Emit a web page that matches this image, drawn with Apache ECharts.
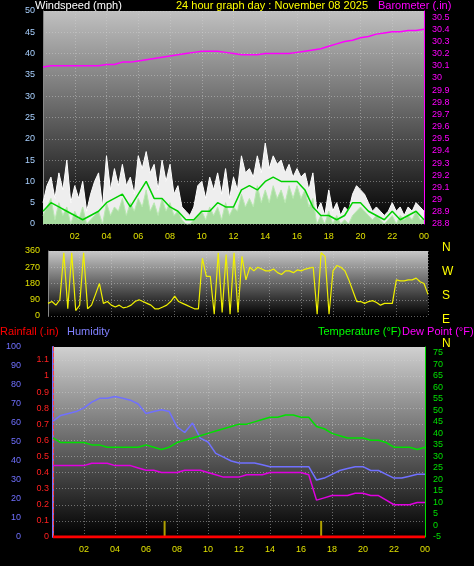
<!DOCTYPE html>
<html>
<head>
<meta charset="utf-8">
<script src="https://cdn.jsdelivr.net/npm/echarts@6/dist/echarts.min.js"></script>
<style>html,body{margin:0;padding:0;background:#000}#chart{width:474px;height:566px}</style>
</head>
<body>
<div id="chart"></div>
<script>
// half-hour steps 0..24
const hours = [];
for (let i = 0; i <= 48; i++) hours.push(i / 2);
// quarter-hour steps 0..24
const quarters = [];
for (let i = 0; i <= 96; i++) quarters.push(i / 4);

const windGust = [5,9,11,6, 12,8,15,5, 9,6,10,3, 7,10,12,4, 16,8,13,9, 14,9,11,7, 16,13,17,12, 14,8,15,10, 14,7,9,4, 3,2,4,9, 10,6,11,8, 12,7,13,6, 11,8,16,12, 13,11,16,12, 19,13,16,14, 15,12,14,11, 13,11,12,8, 12,3,5,2, 8,3,5,2, 4,3,7,9, 8,7,5,3, 4,3,2,3, 5,3,4,2, 4,3,5,4, 3];
const windSpeed = [2,4,6,1, 5,2,4,0, 3,1,4,0, 1,2,3,0, 5,2,4,3, 6,2,5,3, 6,4,8,3, 5,2,6,3, 5,2,3,1, 0,0,1,2, 3,1,4,2, 4,1,5,2, 4,3,7,4, 6,4,9,5, 8,5,9,6, 8,5,9,6, 9,6,8,4, 6,0,2,0, 3,0,2,0, 1,0,2,3, 4,3,2,1, 2,1,0,1, 2,0,2,1, 2,1,3,1, 1];
const windAvg = [3,5,4,3,2,1,2,3,5,6,7,4,7,10,6,6,4,3,1,1,3,3,5,4,4,8,9,8,10,11,10,10,10,8,4,2,2,1,2,5,5,3,2,1,3,1,2,3,1];
const barometer = [30.09,30.10,30.10,30.10,30.10,30.10,30.10,30.10,30.11,30.11,30.13,30.13,30.14,30.15,30.16,30.17,30.18,30.19,30.20,30.21,30.22,30.22,30.22,30.21,30.20,30.19,30.19,30.19,30.20,30.20,30.20,30.20,30.21,30.22,30.23,30.24,30.26,30.28,30.30,30.31,30.33,30.34,30.36,30.37,30.38,30.38,30.39,30.39,30.40];
const windDir = [70,80,60,90, 350,40,350,30, 60,350,40,60, 120,180,70,80, 60,50,60,45, 50,60,80,90, 80,70,60,40, 40,50,60,80, 110,80,70,60, 50,40,40,320, 220,220,10,350, 20,340,10,350, 20,330,200,270, 250,270,260,250, 250,260,240,230, 250,250,240,255, 250,260,265,270, 10,350,330,10, 250,280,270,250, 200,140,80,80, 70,80,85,75, 60,70,70,70, 200,195,195,200, 200,210,190,180, 120];
const humidity = [61,64,65,66,68,71,73,73,74,73,72,70,65,66,67,66,58,55,60,52,50,44,42,40,39,39,39,38,37,37,37,37,37,37,30,31,33,35,36,37,37,35,35,33,31,31,32,33,33];
const temperature = [38,36,36,36,36,35,35,34,34,34,34,34,35,34,33,34,36,37,38,39,40,41,42,43,44,44,45,46,47,47,48,48,47,47,43,42,40,39,38,38,38,37,37,36,34,34,34,33,34];
const dewPoint = [26,26,26,26,26,27,27,27,26,26,26,25,24,24,23,23,23,24,24,24,23,22,21,21,21,22,22,22,23,23,23,23,23,22,11,12,13,13,13,14,14,13,13,11,9,9,9,10,10];
const rainfall = hours.map(() => 0);
const rainTips = [[7.2, 0.1], [17.3, 0.1]];
const compass = ['N', 'W', 'S', 'E', 'N'];

const pairs = (arr) => hours.map((h, i) => [h, arr[i]]);
const qpairs = (arr) => quarters.map((h, i) => [h, arr[i]]);
const split = { show: true, lineStyle: { color: 'rgba(210,210,210,0.45)', type: [1, 2] } };
const bg = (top) => ({ type: 'linear', x: 0, y: 0, x2: 0, y2: 1, colorStops: [{ offset: 0, color: top }, { offset: 1, color: '#000' }] });
const lab = (c) => ({ color: c, fontSize: 9, fontFamily: 'Liberation Sans' });
const txt = (s, x, y, c, size) => ({ type: 'text', left: x, top: y, style: { text: s, fill: c, fontSize: size || 11, fontFamily: 'Liberation Sans' } });

function xAx(gi) {
  return {
    gridIndex: gi, type: 'value', min: 0, max: 24, interval: 2,
    axisLine: { show: false }, axisTick: { show: false }, splitLine: split,
    axisLabel: Object.assign(lab('#e0e000'), { show: gi !== 1, formatter: (v) => v === 0 ? '' : (v === 24 ? '00' : String(v).padStart(2, '0')) })
  };
}

const chart = echarts.init(document.getElementById('chart'));
chart.setOption({
  backgroundColor: '#000',
  animation: false,
  grid: [
    { left: 43, right: 50, top: 11, height: 213, show: true, borderWidth: 0, backgroundColor: bg('#c0c0c0') },
    { left: 48, right: 46, top: 251, height: 65, show: true, borderWidth: 0, backgroundColor: bg('#c8c8c8') },
    { left: 53, right: 49, top: 347, height: 190, show: true, borderWidth: 0, backgroundColor: bg('#d0d0d0') }
  ],
  graphic: [
    txt('Windspeed (mph)', 35, 0, '#fff'),
    txt('24 hour graph day : November 08 2025', 176, 0, '#ffff00'),
    txt('Barometer (.in)', 378, 0, '#ff00ff'),
    ...compass.map((c, i) => txt(c, 442, 242 + i * 24, '#ffff00', 12)),
    txt('Rainfall (.in)', 0, 326, '#ff0000'),
    txt('Humidity', 67, 326, '#8080ff'),
    txt('Temperature (°F)', 318, 326, '#00ff00'),
    txt('Dew Point (°F)', 402, 326, '#ff00ff')
  ],
  xAxis: [xAx(0), xAx(1), xAx(2)],
  yAxis: [
    { gridIndex: 0, position: 'left', min: 0, max: 50, interval: 5, splitLine: split,
      axisLine: { show: true, lineStyle: { color: '#888' } }, axisTick: { show: false }, axisLabel: lab('#a8d0ff') },
    { gridIndex: 0, position: 'right', min: 28.8, max: 30.55, interval: 0.1, splitLine: { show: false },
      axisLine: { show: true, lineStyle: { color: '#ff00ff' } }, axisTick: { show: false },
      axisLabel: Object.assign(lab('#ff00ff'), { formatter: (v) => String(Math.round(v * 10) / 10) }) },
    { gridIndex: 1, position: 'left', min: 0, max: 360, interval: 90, splitLine: split,
      axisLine: { show: true, lineStyle: { color: '#888' } }, axisTick: { show: false }, axisLabel: lab('#e0e000') },
    { gridIndex: 2, position: 'left', min: 0, max: 100, interval: 10, offset: 24, splitLine: { show: false },
      axisLine: { show: true, lineStyle: { color: '#7070ff', width: 2 } }, axisTick: { show: false }, axisLabel: lab('#7070ff') },
    { gridIndex: 2, position: 'left', min: 0, max: 1.18, interval: 0.1, splitLine: split,
      axisLine: { show: true, lineStyle: { color: '#ff4040', type: 'dashed' } }, axisTick: { show: false },
      axisLabel: Object.assign(lab('#ff2020'), { margin: 4, formatter: (v) => v > 1.15 ? '' : String(Math.round(v * 10) / 10) }) },
    { gridIndex: 2, position: 'right', min: -5, max: 77.5, interval: 5, splitLine: { show: false },
      axisLine: { show: true, lineStyle: { color: '#00e000' } }, axisTick: { show: false },
      axisLabel: Object.assign(lab('#00e000'), { formatter: (v) => v > 77 ? '' : String(v) }) }
  ],
  series: [
    { type: 'line', xAxisIndex: 0, yAxisIndex: 0, data: qpairs(windGust), symbol: 'none', lineStyle: { color: '#ffffff', width: 1 }, areaStyle: { color: '#eeeeee', opacity: 1 } },
    { type: 'line', xAxisIndex: 0, yAxisIndex: 0, data: qpairs(windSpeed), symbol: 'none', lineStyle: { color: '#b8e8b0', width: 1 }, areaStyle: { color: '#a8dca0', opacity: 1 } },
    { type: 'line', xAxisIndex: 0, yAxisIndex: 0, data: pairs(windAvg), symbol: 'none', lineStyle: { color: '#00d000', width: 1.5 } },
    { type: 'line', xAxisIndex: 0, yAxisIndex: 1, data: pairs(barometer), symbol: 'none', lineStyle: { color: '#ff00ff', width: 1.5 } },
    { type: 'line', xAxisIndex: 1, yAxisIndex: 2, data: qpairs(windDir), symbol: 'none', lineStyle: { color: '#f0f000', width: 1.2 } },
    { type: 'line', xAxisIndex: 2, yAxisIndex: 3, data: pairs(humidity), symbol: 'none', lineStyle: { color: '#7070ff', width: 1.5 } },
    { type: 'line', xAxisIndex: 2, yAxisIndex: 5, data: pairs(temperature), symbol: 'none', lineStyle: { color: '#00e000', width: 1.5 } },
    { type: 'line', xAxisIndex: 2, yAxisIndex: 5, data: pairs(dewPoint), symbol: 'none', lineStyle: { color: '#e000e0', width: 1.5 } },
    { type: 'line', xAxisIndex: 2, yAxisIndex: 4, data: pairs(rainfall), symbol: 'none', lineStyle: { color: '#ff0000', width: 3 } },
    { type: 'bar', xAxisIndex: 2, yAxisIndex: 4, data: rainTips, barWidth: 2, itemStyle: { color: '#b0a000' } }
  ]
});
</script>
</body>
</html>
